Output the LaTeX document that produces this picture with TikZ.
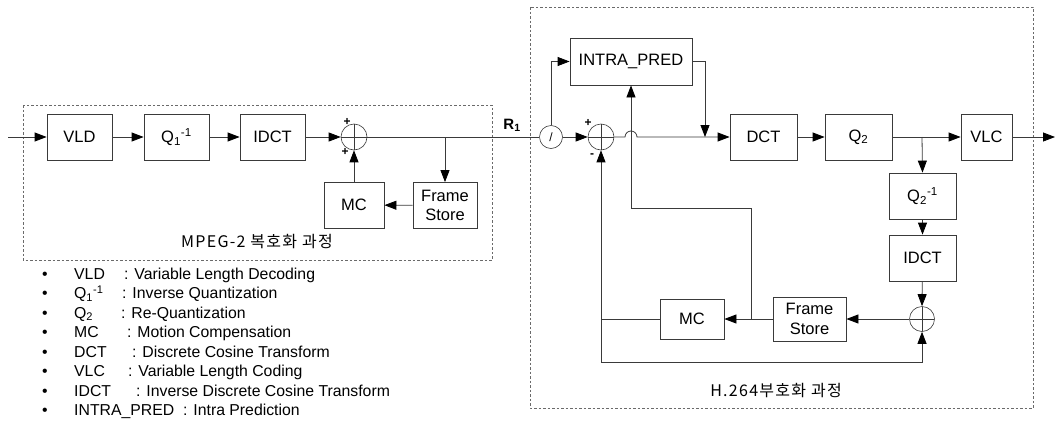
\documentclass[tikz,border=0pt]{standalone}
\usepackage{fontspec}
\setmainfont{Liberation Sans}
\newfontfamily\krfont[LetterSpace=8]{Noto Sans CJK KR}
\usetikzlibrary{arrows.meta,positioning,calc}
\definecolor{ink}{HTML}{3A3A3A}
\definecolor{inkgray}{HTML}{6A6A6A}
\newcommand{\lblfont}{\fontsize{16.5}{19.5}\selectfont}
\newcommand{\legfont}{\fontsize{15.8}{19}\selectfont}
\tikzset{
  flowbox/.style={draw=ink,line width=0.8pt,minimum width=65pt,minimum height=46pt,
                  inner sep=0pt,align=center,font=\lblfont},
  sumnode/.style={circle,draw=ink,line width=0.6pt,minimum size=26pt,inner sep=0pt,
                  path picture={\draw[ink,line width=0.6pt]
                    (path picture bounding box.north)--(path picture bounding box.south)
                    (path picture bounding box.west)--(path picture bounding box.east);}},
  switchnode/.style={circle,draw=ink,line width=0.6pt,minimum size=23pt,inner sep=0pt,
                     font=\fontsize{12}{12}\selectfont},
  flowarr/.style={-{Triangle[length=12pt,width=9pt,color=black]},line width=0.8pt,draw=ink},
  flowline/.style={line width=0.8pt,draw=ink},
  areabox/.style={draw=inkgray,line width=0.7pt,dash pattern=on 2.5pt off 2pt},
  signlbl/.style={font=\bfseries\fontsize{12}{12}\selectfont,inner sep=0pt},
  areatitle/.style={font=\krfont\fontsize{16}{16}\selectfont,inner sep=0pt},
  legitem/.style={font=\legfont,inner sep=0pt,anchor=base west}
}

\begin{document}
\begin{tikzpicture}[x=1pt,y=-1pt]
\useasboundingbox (0,0) rectangle (1057,426);

% MPEG-2 decoder
\draw[areabox] (23,105) rectangle (492,260);
\node[flowbox] (vld) at (79.5,137) {VLD};
\node[flowbox] (qinv) at (176.5,137) {Q\textsubscript{1}\textsuperscript{-1}};
\node[flowbox] (idct) at (272.5,137) {IDCT};
\node[sumnode] (sum) at (354,137) {};
\node[flowbox,minimum width=60pt] (mc) at (354,205) {MC};
\node[flowbox,minimum width=64pt] (fs) at (445,205.5) {Frame\\Store};
\node[areatitle] (dectitle) at (257,242) {MPEG-2 복호화 과정};
\node[signlbl] (sp1) at (347,122) {+};
\node[signlbl] (sp2) at (345,152) {+};
\coordinate (in) at (8,137);
\coordinate (fsj) at (445,137);

\draw[flowarr] (in) -- (vld);
\draw[flowarr] (vld) -- (qinv);
\draw[flowarr] (qinv) -- (idct);
\draw[flowarr] (idct) -- (sum.west);
\draw[flowarr] (mc) -- (sum.south);
\draw[flowarr] (fsj) -- (fs.north);
\draw[flowarr] (fs) -- (mc);
\draw[flowline] (sum.east) -- (fsj);

% H.264 encoder
\draw[areabox] (530,7) rectangle (1033,408);
\node[font=\bfseries\fontsize{15}{15}\selectfont] (r1) at (512,125) {R\textsubscript{1}};
\node[switchnode] (sw) at (551,137) {/};
\node[flowbox,minimum width=122pt,minimum height=47pt] (intra) at (631,61.5) {INTRA\_PRED};
\node[sumnode] (diff) at (601,137) {};
\node[signlbl] (sp3) at (588,123) {+};
\node[signlbl] (sm1) at (592,156) {-};
\node[flowbox,minimum width=67pt] (dct) at (763.5,137) {DCT};
\node[flowbox,minimum width=67pt] (q2) at (858.5,137) {Q\textsubscript{2}};
\node[flowbox,minimum width=51pt] (vlc) at (986.5,137) {VLC};
\node[flowbox,minimum width=67pt] (q2inv) at (922.5,196) {Q\textsubscript{2}\textsuperscript{-1}};
\node[flowbox,minimum width=67pt] (idct2) at (922.5,258) {IDCT};
\node[sumnode,minimum size=25pt] (rec) at (922,319) {};
\node[flowbox,minimum width=73pt,minimum height=44pt] (fs2) at (809.5,319) {Frame\\Store};
\node[flowbox,minimum width=64pt,minimum height=40pt] (mc2) at (692,319) {MC};
\node[areatitle] (enctitle) at (776,391) {H.264부호화 과정};
\coordinate (hop) at (631,137);
\coordinate (ipj) at (705,137);
\coordinate (q2j) at (922,137);
\coordinate (out) at (1055,137);
\coordinate (fsj2) at (751,319);
\coordinate (ipin) at (631,208);
\coordinate (predj) at (601,319);
\coordinate (recin) at (601,362);

\draw[flowline] (fsj) -- (sw.west);
\draw[flowarr] (sw.north) |- (intra.west);
\draw[flowarr] (sw) -- (diff.west);
\draw[flowarr] (diff.east) -- ([xshift=-6pt]hop) arc[start angle=180,end angle=0,radius=6pt] -- (dct.west);
\draw[flowarr] (intra.east) -| (ipj);
\draw[flowarr] (dct) -- (q2);
\draw[flowarr] (q2) -- (vlc);
\draw[flowarr] (vlc) -- (out);
\draw[flowarr] (q2j) -- (q2inv.north);
\draw[flowarr] (q2inv) -- (idct2);
\draw[flowarr] (idct2) -- (rec.north);
\draw[flowarr] (rec) -- (fs2);
\draw[flowarr] (fs2.west) -- (fsj2) |- (ipin) -- (intra.south);
\draw[flowarr] (fsj2) -- (mc2);
\draw[flowarr] (mc2.west) -- (predj) -- (diff.south);
\draw[flowarr] (predj) -- (recin) -| (rec.south);

% legend
\foreach \abbr/\cx/\desc [count=\i] in {
    VLD/124/Variable Length Decoding,
    {Q\textsubscript{1}\textsuperscript{-1}}/122/Inverse Quantization,
    {Q\textsubscript{2}}/121/Re-Quantization,
    MC/127/Motion Compensation,
    DCT/132/Discrete Cosine Transform,
    VLC/128/Variable Length Coding,
    IDCT/136/Inverse Discrete Cosine Transform,
    {INTRA\_PRED}/183/Intra Prediction}{
  \node[font=\legfont,inner sep=0pt,anchor=base] (bul\i) at (45,{279+19.5*(\i-1)}) {\textbullet};
  \node[legitem] (abbr\i) at (74,{279+19.5*(\i-1)}) {\abbr};
  \node[legitem] (desc\i) at (\cx,{279+19.5*(\i-1)}) {: \desc};
}
\end{tikzpicture}
\end{document}
